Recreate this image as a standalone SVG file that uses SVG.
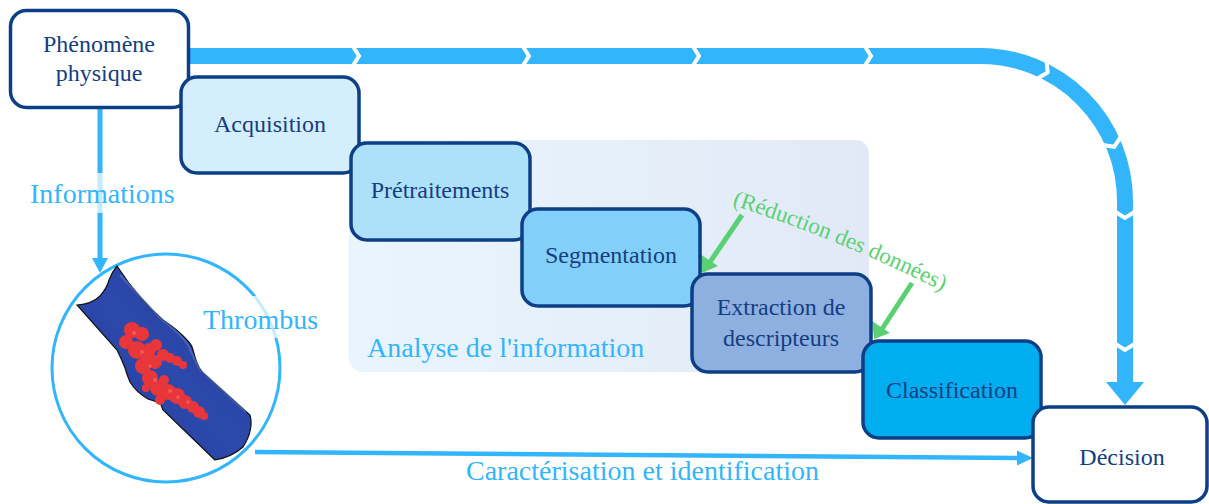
<svg xmlns="http://www.w3.org/2000/svg" width="1209" height="504" viewBox="0 0 1209 504">
<style>
.node rect{stroke:#0c3f86;stroke-width:3.5}
.lbl{font-family:"Liberation Serif","Times New Roman",serif;font-size:24px;fill:#153e80;text-anchor:middle}
.cap{font-family:"Liberation Serif","Times New Roman",serif;font-size:28px;fill:#33b5fa}
.chev{fill:none;stroke:#ffffff;stroke-width:4;stroke-linejoin:miter}
</style>
<defs>
<linearGradient id="bgAnal" x1="0" y1="0" x2="1" y2="0">
<stop offset="0" stop-color="#e9f5fd"/>
<stop offset="1" stop-color="#e1e9f6"/>
</linearGradient>
<linearGradient id="vessel" x1="0" y1="1" x2="1" y2="0">
<stop offset="0" stop-color="#22399a"/>
<stop offset="0.5" stop-color="#2c49ab"/>
<stop offset="1" stop-color="#22399a"/>
</linearGradient>
</defs>

<!-- Analysis background -->
<g id="analyse">
<rect x="349" y="140" width="520" height="232" rx="14" fill="url(#bgAnal)"/>
<text class="cap" x="367" y="357">Analyse de l'information</text>
</g>

<!-- Connectors -->
<g id="connectors">
<path d="M 190 56 L 980 56 A 145 145 0 0 1 1125 201 L 1125 384" fill="none" stroke="#33b5fb" stroke-width="16"/>
<polygon points="1106,382 1144,382 1125,405" fill="#33b5fb"/>
<path class="chev" d="M 352 45 L 359 56 L 352 67"/>
<path class="chev" d="M 522 45 L 529 56 L 522 67"/>
<path class="chev" d="M 692 45 L 699 56 L 692 67"/>
<path class="chev" d="M 864 45 L 871 56 L 864 67"/>
<path class="chev" transform="translate(1045,71) rotate(26.6)" d="M -4 -11 L 3 0 L -4 11"/>
<path class="chev" transform="translate(1113,144) rotate(66.5)" d="M -4 -11 L 3 0 L -4 11"/>
<path class="chev" transform="translate(1125,215) rotate(90)" d="M -4 -11 L 3 0 L -4 11"/>
<path class="chev" transform="translate(1125,347) rotate(90)" d="M -4 -11 L 3 0 L -4 11"/>

<line x1="100" y1="108" x2="100" y2="260" stroke="#33b5fb" stroke-width="5"/>
<polygon points="92,258 108,258 100,273" fill="#33b5fb"/>

<line x1="255" y1="452" x2="1019" y2="458" stroke="#33b5fb" stroke-width="4.5"/>
<polygon points="1017,450.5 1033,458 1017,465.5" fill="#33b5fb"/>

<line x1="742" y1="215" x2="710" y2="262" stroke="#5bd073" stroke-width="5"/>
<polygon points="700,254 718,266 702,273" fill="#5bd073"/>
<line x1="912" y1="283" x2="882" y2="329" stroke="#5bd073" stroke-width="5"/>
<polygon points="872,321 890,333 874,339" fill="#5bd073"/>
</g>

<g id="connector-labels">
<rect x="27" y="173" width="150" height="40" fill="#ffffff" fill-opacity="0.72"/>
<text class="cap" x="30" y="203">Informations</text>
<text class="cap" x="466" y="480">Caractérisation et identification</text>
<path id="redPath" d="M 732 205 Q 836 238 940 290" fill="none"/>
<text font-family="'Liberation Serif','Times New Roman',serif" font-size="23" fill="#5bd073"><textPath href="#redPath">(Réduction des données)</textPath></text>
</g>

<!-- Thrombus illustration -->
<g id="thrombus">
<circle cx="166" cy="368" r="114" fill="#ffffff" stroke="#33b5fb" stroke-width="3"/>
<path d="M 117 266 Q 128 283 140 297 Q 151 310 163 320 Q 178 330 187 340 Q 192 345 193 350 Q 195 358 197 363 Q 199 369 203 373 L 250 415 Q 254 430 243 447 Q 232 457 215 460 L 163 410 Q 161 404 160 403 Q 154 401 148 399 Q 136 392 130 382 Q 127 375 125 368 Q 121 358 117 350 L 77 305 Q 92 304 100 296 Q 107 288 109 280 Q 112 272 117 266 Z" fill="url(#vessel)" stroke="#111111" stroke-width="1.2"/>
<path d="M 120 275 L 160 318 Q 180 333 188 345 Q 195 360 200 370 L 246 412" fill="none" stroke="#5b78c8" stroke-width="2" stroke-opacity="0.6"/>
<path d="M 160 405 Q 162 398 170 395" fill="none" stroke="#5b78c8" stroke-width="2" stroke-opacity="0.6"/>
<g fill="#e8363b">
<circle cx="132" cy="330" r="8"/>
<circle cx="126" cy="342" r="7"/>
<circle cx="142" cy="334" r="7"/>
<circle cx="137" cy="350" r="9"/>
<circle cx="149" cy="350" r="7"/>
<circle cx="156" cy="345" r="6"/>
<circle cx="143" cy="366" r="8"/>
<circle cx="155" cy="362" r="7"/>
<circle cx="163" cy="355" r="6"/>
<circle cx="170" cy="358" r="5"/>
<circle cx="177" cy="361" r="5"/>
<circle cx="183" cy="365" r="4"/>
<circle cx="150" cy="378" r="8"/>
<circle cx="158" cy="388" r="8"/>
<circle cx="168" cy="392" r="8"/>
<circle cx="177" cy="396" r="8"/>
<circle cx="185" cy="402" r="7"/>
<circle cx="193" cy="407" r="6"/>
<circle cx="199" cy="412" r="6"/>
<circle cx="204" cy="416" r="4"/>
<circle cx="160" cy="400" r="5"/>
<circle cx="146" cy="388" r="4"/>
<circle cx="147" cy="358" r="6"/>
<circle cx="164" cy="380" r="5"/>
</g>
<g fill="#f26a6a" fill-opacity="0.7">
<circle cx="134" cy="333" r="2"/><circle cx="142" cy="352" r="2"/><circle cx="170" cy="391" r="2"/><circle cx="188" cy="402" r="1.8"/><circle cx="155" cy="380" r="2"/><circle cx="150" cy="366" r="1.8"/><circle cx="178" cy="397" r="1.8"/>
</g>
<rect x="200" y="296" width="120" height="42" fill="#ffffff" fill-opacity="0.72"/>
<text class="cap" x="203" y="329">Thrombus</text>
</g>

<!-- Nodes -->
<g id="phenomene" class="node">
<rect x="10.5" y="10.5" width="178" height="97" rx="16" fill="#ffffff"/>
<text class="lbl" x="99" y="52">Phénomène</text>
<text class="lbl" x="99" y="81">physique</text>
</g>
<g id="acquisition" class="node">
<rect x="181" y="77" width="178" height="96" rx="16" fill="#d4eefc"/>
<text class="lbl" x="270" y="132">Acquisition</text>
</g>
<g id="pretraitements" class="node">
<rect x="351" y="143" width="179" height="97" rx="16" fill="#aee0fa"/>
<text class="lbl" x="440" y="198">Prétraitements</text>
</g>
<g id="segmentation" class="node">
<rect x="522" y="209" width="178" height="97" rx="16" fill="#82d0fa"/>
<text class="lbl" x="611" y="263">Segmentation</text>
</g>
<g id="extraction" class="node">
<rect x="692" y="274" width="179" height="98" rx="16" fill="#8db0e0"/>
<text class="lbl" x="781" y="315">Extraction de</text>
<text class="lbl" x="781" y="346">descripteurs</text>
</g>
<g id="classification" class="node">
<rect x="863" y="341" width="178" height="97" rx="16" fill="#00adef"/>
<text class="lbl" x="952" y="398">Classification</text>
</g>
<g id="decision" class="node">
<rect x="1033" y="407" width="174" height="95" rx="16" fill="#ffffff"/>
<text class="lbl" x="1122" y="465">Décision</text>
</g>
</svg>
